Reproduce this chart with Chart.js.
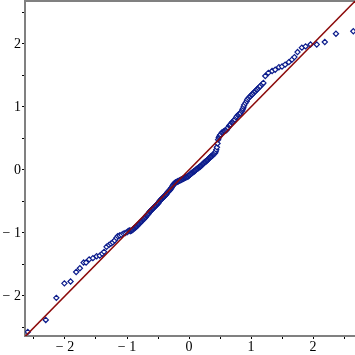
<!DOCTYPE html>
<html>
<head>
<meta charset="utf-8">
<script src="https://cdn.jsdelivr.net/npm/chart.js@4/dist/chart.umd.min.js"></script>
<style>
    html, body { margin: 0; padding: 0; background: #ffffff; }
    #wrap { width: 355px; height: 355px; }
</style>
</head>
<body>
<div id="wrap"><canvas id="qq-chart"></canvas></div>
<script>
// theoretical normal quantiles (x) and sample quantiles (y)
const tailLowX = [
    -2.60, -2.31, -2.14, -2.01, -1.91, -1.82, -1.76, -1.70, -1.66, -1.61,
    -1.55, -1.49, -1.44, -1.40, -1.37, -1.33, -1.29, -1.26, -1.23, -1.20,
    -1.17, -1.15, -1.12, -1.09, -1.06, -1.03, -1.00, -0.98, -0.96
];
const tailLowY = [
    -2.57, -2.38, -2.03, -1.80, -1.77, -1.62, -1.56, -1.47, -1.47, -1.42,
    -1.40, -1.37, -1.36, -1.33, -1.30, -1.22, -1.19, -1.17, -1.15, -1.12,
    -1.08, -1.05, -1.04, -1.03, -1.01, -1.00, -0.99, -0.97, -0.96
];
const bodyX = [
    -0.95, -0.94, -0.93, -0.92, -0.91, -0.90, -0.89, -0.88, -0.87, -0.86,
    -0.85, -0.84, -0.83, -0.82, -0.81, -0.80, -0.79, -0.78, -0.77, -0.76,
    -0.75, -0.74, -0.73, -0.72, -0.71, -0.70, -0.69, -0.68, -0.67, -0.66,
    -0.65, -0.64, -0.63, -0.62, -0.61, -0.60, -0.59, -0.58, -0.57, -0.56,
    -0.55, -0.54, -0.53, -0.52, -0.51, -0.50, -0.49, -0.48, -0.47, -0.46,
    -0.45, -0.44, -0.43, -0.42, -0.41, -0.40, -0.39, -0.38, -0.37, -0.36,
    -0.35, -0.34, -0.33, -0.32, -0.31, -0.30, -0.29, -0.28, -0.27, -0.26,
    -0.25, -0.24, -0.23, -0.22, -0.21, -0.20, -0.19, -0.18, -0.17, -0.16,
    -0.15, -0.14, -0.13, -0.12, -0.11, -0.10, -0.09, -0.08, -0.07, -0.06,
    -0.05, -0.04, -0.03, -0.02, -0.01, 0.00, 0.01, 0.02, 0.03, 0.04,
    0.05, 0.06, 0.07, 0.08, 0.09, 0.10, 0.11, 0.12, 0.13, 0.14,
    0.15, 0.16, 0.17, 0.18, 0.19, 0.20, 0.21, 0.22, 0.23, 0.24,
    0.25, 0.26, 0.27, 0.28, 0.29, 0.30, 0.31, 0.32, 0.33, 0.34,
    0.35, 0.36, 0.37, 0.38, 0.39, 0.40, 0.41, 0.42, 0.43, 0.44,
    0.45
];
const bodyY = [
    -0.97, -0.97, -0.96, -0.96, -0.95, -0.94, -0.93, -0.92, -0.92, -0.91,
    -0.90, -0.89, -0.88, -0.87, -0.86, -0.85, -0.84, -0.83, -0.82, -0.81,
    -0.80, -0.79, -0.78, -0.77, -0.76, -0.75, -0.73, -0.72, -0.71, -0.70,
    -0.69, -0.67, -0.66, -0.65, -0.64, -0.63, -0.62, -0.61, -0.60, -0.59,
    -0.58, -0.57, -0.56, -0.55, -0.54, -0.53, -0.52, -0.50, -0.49, -0.48,
    -0.47, -0.46, -0.45, -0.44, -0.43, -0.42, -0.41, -0.40, -0.39, -0.38,
    -0.36, -0.35, -0.34, -0.33, -0.32, -0.31, -0.29, -0.28, -0.26, -0.25,
    -0.23, -0.22, -0.21, -0.20, -0.20, -0.19, -0.19, -0.18, -0.18, -0.17,
    -0.17, -0.16, -0.16, -0.15, -0.15, -0.14, -0.14, -0.13, -0.13, -0.12,
    -0.12, -0.11, -0.11, -0.10, -0.10, -0.09, -0.08, -0.07, -0.06, -0.05,
    -0.05, -0.04, -0.03, -0.02, -0.02, -0.01, 0.00, 0.01, 0.02, 0.02,
    0.03, 0.04, 0.05, 0.05, 0.06, 0.07, 0.08, 0.09, 0.10, 0.11,
    0.12, 0.13, 0.13, 0.14, 0.15, 0.16, 0.17, 0.18, 0.19, 0.20,
    0.21, 0.22, 0.22, 0.23, 0.24, 0.25, 0.26, 0.27, 0.29, 0.32,
    0.36
];
const upperX = [
    0.46, 0.47, 0.48, 0.49, 0.50, 0.51, 0.53, 0.54, 0.56, 0.57,
    0.58, 0.60, 0.61, 0.62, 0.63, 0.65, 0.66, 0.67, 0.69, 0.70,
    0.72, 0.73, 0.74, 0.76, 0.77, 0.79, 0.80, 0.82, 0.83, 0.85,
    0.86, 0.87, 0.88, 0.89, 0.91, 0.93, 0.94, 0.96, 0.98, 0.99,
    1.01, 1.02, 1.04, 1.06, 1.07, 1.09, 1.10, 1.12, 1.14, 1.15,
    1.18
];
const upperY = [
    0.42, 0.48, 0.51, 0.53, 0.55, 0.56, 0.59, 0.60, 0.61, 0.62,
    0.62, 0.63, 0.64, 0.66, 0.67, 0.70, 0.71, 0.72, 0.75, 0.76,
    0.77, 0.79, 0.80, 0.83, 0.85, 0.87, 0.88, 0.89, 0.90, 0.93,
    0.95, 0.97, 1.00, 1.03, 1.06, 1.09, 1.12, 1.14, 1.16, 1.17,
    1.19, 1.20, 1.22, 1.24, 1.25, 1.27, 1.28, 1.30, 1.32, 1.33,
    1.36
];
const tailHighX = [
    1.20, 1.23, 1.28, 1.34, 1.39, 1.45, 1.50, 1.55, 1.61, 1.66,
    1.70, 1.75, 1.82, 1.88, 1.96, 2.06, 2.19, 2.37, 2.65
];
const tailHighY = [
    1.38, 1.49, 1.54, 1.57, 1.59, 1.63, 1.64, 1.67, 1.71, 1.75,
    1.79, 1.87, 1.94, 1.96, 1.99, 1.99, 2.03, 2.16, 2.20
];

// reference line y = x
const refLine = [-2.7, 2.7];

const tickValues = [-2.5, -2, -1.5, -1, -0.5, 0, 0.5, 1, 1.5, 2, 2.5];

const xRange = [-2.645, 2.677];
const yRange = [-2.635, 2.68];

const axisGray = '#808080';
const pointBlue = '#0c1c8c';
const lineRed = '#8c0a0a';

const quantX = [...tailLowX, ...bodyX, ...upperX, ...tailHighX];
const quantY = [...tailLowY, ...bodyY, ...upperY, ...tailHighY];

function tickLabel(value) {
    if (!Number.isInteger(value)) return '';
    if (value < 0) return '\u2212 ' + Math.abs(value);
    return String(value);
}

function fixedTicks(scale) {
    scale.ticks = tickValues.map(v => ({ value: v }));
}

// no extra room for the end labels, the plot box fills the canvas
function noPadding(scale) {
    scale.paddingLeft = 0;
    scale.paddingRight = 0;
    scale.paddingTop = 0;
    scale.paddingBottom = 0;
}

const tickFont = { family: "'Liberation Serif', 'DejaVu Serif', serif", size: 14 };

const ctx = document.getElementById('qq-chart').getContext('2d');

const config = {
    type: 'scatter',
    data: {
        datasets: [
            {
                type: 'line',
                data: refLine.map(v => ({ x: v, y: v })),
                borderColor: lineRed,
                borderWidth: 1.5,
                pointRadius: 0,
                fill: false,
                xAxisID: 'x',
                yAxisID: 'y'
            },
            {
                data: quantX.map((v, i) => ({ x: v, y: quantY[i] })),
                pointStyle: 'rectRot',
                pointRadius: 2.6,
                pointBorderWidth: 1.2,
                borderColor: pointBlue,
                backgroundColor: '#ffffff',
                xAxisID: 'x',
                yAxisID: 'y'
            }
        ]
    },
    options: {
        responsive: true,
        maintainAspectRatio: false,
        animation: false,
        layout: { padding: 0, autoPadding: false },
        plugins: {
            legend: { display: false },
            tooltip: { enabled: false }
        },
        scales: {
            x: {
                type: 'linear',
                position: 'bottom',
                min: xRange[0],
                max: xRange[1],
                afterBuildTicks: fixedTicks,
                afterFit: s => { s.height = 19; noPadding(s); },
                ticks: {
                    autoSkip: false,
                    maxRotation: 0,
                    padding: 0,
                    color: '#000000',
                    font: tickFont,
                    callback: tickLabel
                },
                grid: {
                    drawOnChartArea: false,
                    drawTicks: true,
                    tickLength: 3,
                    color: '#000000'
                },
                border: { color: axisGray, width: 2 }
            },
            xTop: {
                type: 'linear',
                position: 'top',
                min: xRange[0],
                max: xRange[1],
                afterFit: s => { s.height = 1; noPadding(s); },
                ticks: { display: false },
                grid: { display: false },
                border: { display: true, color: axisGray, width: 2 }
            },
            y: {
                type: 'linear',
                position: 'left',
                min: yRange[0],
                max: yRange[1],
                afterBuildTicks: fixedTicks,
                afterFit: s => { s.width = 25; noPadding(s); },
                ticks: {
                    autoSkip: false,
                    padding: 1,
                    color: '#000000',
                    font: tickFont,
                    callback: tickLabel
                },
                grid: {
                    drawOnChartArea: false,
                    drawTicks: true,
                    tickLength: 3,
                    color: '#000000'
                },
                border: { color: axisGray, width: 2 }
            }
        }
    }
};

const qqChart = new Chart(ctx, config);
</script>
</body>
</html>
